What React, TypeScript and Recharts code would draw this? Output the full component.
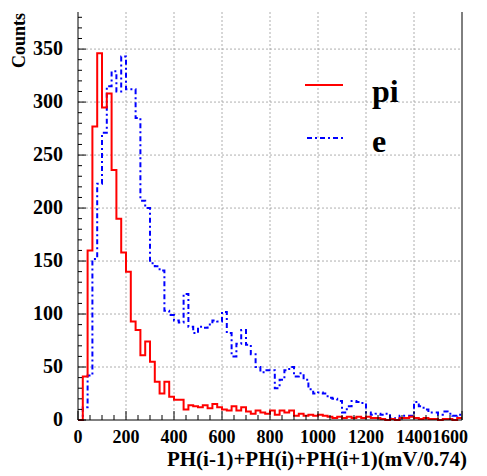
import { LineChart, Line, XAxis, YAxis, CartesianGrid } from "recharts";

const BIN_WIDTH = 20;

// counts per 20-wide bin, 0..1600
const PI_COUNTS = [
  0, 41, 160, 277, 346, 295, 308, 236, 190, 158,
  140, 93, 85, 61, 74, 55, 36, 25, 36, 22,
  19, 19, 10, 14, 13, 12, 14, 11, 15, 12,
  10, 9, 13, 9, 12, 8, 6, 9, 7, 6,
  9, 5, 9, 7, 9, 4, 6, 4, 5, 4,
  5, 4, 3, 2, 3, 2, 3, 2, 3, 2,
  3, 2, 2, 1, 0, 1, 0, 2, 2, 3,
  2, 1, 2, 1, 1, 0, 1, 1, 0, 2,
];

const E_COUNTS = [
  0, 12, 42, 152, 223, 271, 315, 329, 310, 343,
  312, 312, 285, 207, 200, 148, 145, 141, 103, 99,
  94, 92, 119, 88, 82, 88, 87, 90, 94, 93,
  102, 82, 60, 72, 85, 71, 62, 50, 45, 47,
  47, 30, 38, 47, 50, 41, 44, 38, 29, 25,
  26, 25, 21, 20, 18, 7, 13, 18, 17, 16,
  7, 5, 6, 5, 6, 2, 1, 4, 4, 4,
  17, 13, 10, 7, 7, 5, 8, 6, 4, 5,
];

const X_MAJOR = [0, 200, 400, 600, 800, 1000, 1200, 1400, 1600];
const Y_MAJOR = [0, 50, 100, 150, 200, 250, 300, 350];
const X_GRID = [200, 400, 600, 800, 1000, 1200, 1400];
const Y_GRID = [50, 100, 150, 200, 250, 300, 350];

const xTicks: number[] = [];
for (let v = 0; v <= 1600; v += 50) xTicks.push(v);
const yTicks: number[] = [];
for (let v = 0; v <= 380; v += 10) yTicks.push(v);

// step-after points at bin low edges, closing point at the last edge
const data = PI_COUNTS.map((c, i) => ({ x: i * BIN_WIDTH, pi: c, e: E_COUNTS[i] }));
data.push({
  x: PI_COUNTS.length * BIN_WIDTH,
  pi: PI_COUNTS[PI_COUNTS.length - 1],
  e: E_COUNTS[E_COUNTS.length - 1],
});

const FONT = "'Liberation Serif', 'Times New Roman', serif";
const LEFT = 78;
const RIGHT = 462;
const BOTTOM = 420;

function LeftTick(props: any) {
  const { y, payload } = props;
  const major = Y_MAJOR.includes(payload.value);
  return (
    <g>
      <line x1={LEFT} x2={LEFT + (major ? 8 : 4)} y1={y} y2={y} stroke="#000" strokeWidth={1} />
      {major && (
        <text x={63} y={y} dy={6} textAnchor="end" fontFamily={FONT} fontWeight="bold" fontSize={20} fill="#000">
          {payload.value}
        </text>
      )}
    </g>
  );
}

function RightTick(props: any) {
  const { y, payload } = props;
  const major = Y_MAJOR.includes(payload.value);
  return <line x1={RIGHT} x2={RIGHT - (major ? 8 : 4)} y1={y} y2={y} stroke="#000" strokeWidth={1} />;
}

function BottomTick(props: any) {
  const { x, payload } = props;
  const major = X_MAJOR.includes(payload.value);
  const last = payload.value === 1600;
  return (
    <g>
      <line x1={x} x2={x} y1={BOTTOM} y2={BOTTOM - (major ? 9 : 5)} stroke="#000" strokeWidth={1} />
      {major && (
        <text
          x={last ? 468 : x}
          y={443}
          textAnchor={last ? "end" : "middle"}
          fontFamily={FONT}
          fontWeight="bold"
          fontSize={18}
          fill="#000"
        >
          {payload.value}
        </text>
      )}
    </g>
  );
}

export default function App() {
  return (
    <div style={{ position: "absolute", left: 0, top: 0, width: 487, height: 476, background: "#fff" }}>
      <LineChart width={487} height={476} data={data} margin={{ top: 12, right: 24, left: 0, bottom: 0 }}>
        <CartesianGrid
          stroke="#999"
          strokeWidth={0.8}
          strokeDasharray="2 2"
          horizontalValues={Y_GRID}
          verticalValues={X_GRID}
        />
        <XAxis
          dataKey="x"
          type="number"
          domain={[0, 1600]}
          ticks={xTicks}
          interval={0}
          height={56}
          tickLine={false}
          axisLine={{ stroke: "#000" }}
          tick={<BottomTick />}
        />
        <YAxis
          type="number"
          domain={[0, 385]}
          ticks={yTicks}
          interval={0}
          width={78}
          tickLine={false}
          axisLine={{ stroke: "#000" }}
          tick={<LeftTick />}
        />
        <YAxis
          yAxisId="r"
          orientation="right"
          type="number"
          domain={[0, 385]}
          ticks={yTicks}
          interval={0}
          width={1}
          tickLine={false}
          axisLine={{ stroke: "#000" }}
          tick={<RightTick />}
        />
        <Line
          dataKey="e"
          type="stepAfter"
          stroke="#0000ff"
          strokeWidth={2}
          strokeDasharray="5 3 2 3"
          dot={false}
          isAnimationActive={false}
        />
        <Line
          dataKey="pi"
          type="stepAfter"
          stroke="#ff0000"
          strokeWidth={2}
          dot={false}
          isAnimationActive={false}
        />
      </LineChart>
      <svg width={487} height={476} style={{ position: "absolute", left: 0, top: 0, pointerEvents: "none" }}>
        <line x1={305} x2={343} y1={85} y2={85} stroke="#ff0000" strokeWidth={2} />
        <text x={372} y={102} fontFamily={FONT} fontWeight="bold" fontSize={32} fill="#000">pi</text>
        <line x1={307} x2={343} y1={138} y2={138} stroke="#0000ff" strokeWidth={2} strokeDasharray="5 3 2 3" />
        <text x={372} y={152} fontFamily={FONT} fontWeight="bold" fontSize={32} fill="#000">e</text>
        <text
          transform="translate(25,13) rotate(-90)"
          textAnchor="end"
          fontFamily={FONT}
          fontWeight="bold"
          fontSize={18}
          fill="#000"
        >
          Counts
        </text>
        <text x={467} y={466} textAnchor="end" fontFamily={FONT} fontWeight="bold" fontSize={21} fill="#000">
          PH(i-1)+PH(i)+PH(i+1)(mV/0.74)
        </text>
      </svg>
    </div>
  );
}
